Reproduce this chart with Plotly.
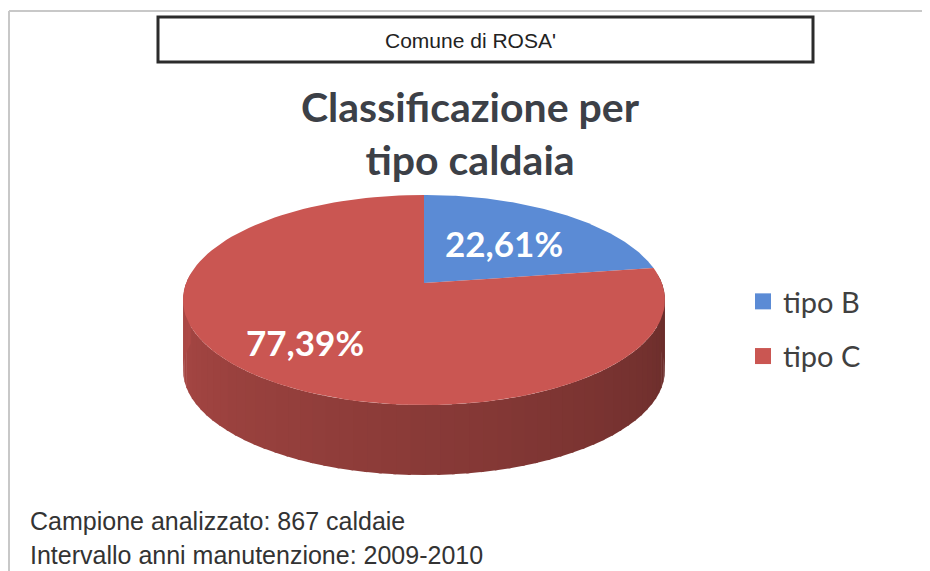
import numpy as np
import plotly.graph_objects as go

# ---------------- data ----------------
categories = ["tipo B", "tipo C"]
values = [22.61, 77.39]
colors = ["#5b8bd5", "#ca5652"]
box_title = "Comune di ROSA'"
chart_title = "Classificazione per<br>tipo caldaia"
notes = ["Campione analizzato: 867 caldaie",
         "Intervallo anni manutenzione: 2009-2010"]

# ---------------- layout constants (screen pixels) ----------------
W, H = 930, 571
OFF = 8                    # default page body margin
CX, CY = 424, 283          # projected pie centre
R, RB, K = 237.8, 102.3, 0.162   # radius, vertical scale, perspective
DEPTH = 70
LABEL_R = [0.55, 0.70]


def proj(r, ang_deg):
    a = np.radians(ang_deg)
    x = r * np.sin(a)
    y = r * np.cos(a)
    w = 1 + K * y
    return CX + R * x / w, CY - RB * y / w


def hex_to_rgb(h):
    h = h.lstrip("#")
    return [int(h[i:i + 2], 16) for i in (0, 2, 4)]


def shade(h, f):
    r, g, b = hex_to_rgb(h)
    return "rgb(%d,%d,%d)" % (r * f, g * f, b * f)


total = float(sum(values))
bounds = np.concatenate([[0], np.cumsum(values) / total * 360.0])

fig = go.Figure()

# ---- side (extrusion) strips ----
n_strips = 64
edges = np.linspace(85, 275, n_strips + 1)
for a0, a1 in zip(edges[:-1], edges[1:]):
    mid = (a0 + a1) / 2
    idx = int(np.searchsorted(bounds, mid, side="right") - 1)
    idx = min(max(idx, 0), len(values) - 1)
    t = (mid - 85) / 190.0          # 0 at right, 1 at left
    f = 0.50 + 0.36 * t
    angs = np.linspace(a0 - 0.3, a1 + 0.3, 4)
    xs, ys = proj(1.0, angs)
    px = list(xs) + list(xs[::-1])
    py = list(ys) + list((ys + DEPTH)[::-1])
    fig.add_trace(go.Scatter(x=px, y=py, mode="lines", fill="toself",
                             fillcolor=shade(colors[idx], f),
                             line=dict(width=0, color=shade(colors[idx], f)),
                             hoverinfo="skip", showlegend=False))

# ---- top faces ----
for i, (cat, v) in enumerate(zip(categories, values)):
    angs = np.linspace(bounds[i], bounds[i + 1], 120)
    xs, ys = proj(1.0, angs)
    px = [CX] + list(xs) + [CX]
    py = [CY] + list(ys) + [CY]
    fig.add_trace(go.Scatter(x=px, y=py, mode="lines", fill="toself",
                             fillcolor=colors[i], line=dict(width=0, color=colors[i]),
                             hoverinfo="skip", showlegend=False))

# ---- labels ----
for i, v in enumerate(values):
    mid = (bounds[i] + bounds[i + 1]) / 2
    lx, ly = proj(LABEL_R[i], mid)
    txt = ("%.2f" % v).replace(".", ",") + "%"
    fig.add_annotation(x=float(lx), y=float(ly), xref="x", yref="y", text=txt,
                       showarrow=False, xanchor="center", yanchor="middle",
                       font=dict(family="Lato", size=35, color="white", weight="bold"))

# ---- legend entries ----
for i, cat in enumerate(categories):
    fig.add_trace(go.Scatter(x=[None], y=[None], mode="markers", name=cat,
                             legendgroup=cat,
                             marker=dict(symbol="square", size=18, color=colors[i])))

# ---- titles and notes ----
fig.add_shape(type="rect", xref="x", yref="y", x0=158, x1=813, y0=17, y1=62,
              line=dict(color="#2b2b2b", width=3), fillcolor="white")
fig.add_annotation(x=470, y=40, xref="x", yref="y", text=box_title, showarrow=False,
                   font=dict(family="Liberation Sans, Arial", size=21, color="#222222"))
fig.add_annotation(x=470, y=133, xref="x", yref="y", text=chart_title, showarrow=False,
                   yanchor="middle",
                   font=dict(family="Lato", size=41, color="#3c4047", weight="bold"))
for j, note in enumerate(notes):
    fig.add_annotation(x=28, y=521 + 34 * j, xref="x", yref="y", text=note,
                       showarrow=False, xanchor="left", yanchor="middle",
                       font=dict(family="Liberation Sans, Arial", size=25, color="#333333"))

# frame lines
fig.add_shape(type="line", xref="x", yref="y", x0=9, x1=W, y0=11, y1=11,
              line=dict(color="#c8c8c8", width=2))
fig.add_shape(type="line", xref="x", yref="y", x0=9, x1=9, y0=11, y1=H,
              line=dict(color="#c8c8c8", width=2))

FW, FH = W - OFF, H - OFF
fig.update_layout(
    width=FW, height=FH,
    margin=dict(l=0, r=0, t=0, b=0),
    paper_bgcolor="white", plot_bgcolor="white",
    xaxis=dict(range=[OFF, W], visible=False, fixedrange=True),
    yaxis=dict(range=[H, OFF], visible=False, fixedrange=True),
    legend=dict(x=(743 - OFF) / FW, y=1 - (276 - OFF) / FH, xanchor="left", yanchor="top",
                traceorder="grouped", tracegroupgap=14,
                font=dict(family="Lato", size=29, color="#404040"),
                bgcolor="rgba(0,0,0,0)"),
    showlegend=True,
)

fig.write_html("out.html")
